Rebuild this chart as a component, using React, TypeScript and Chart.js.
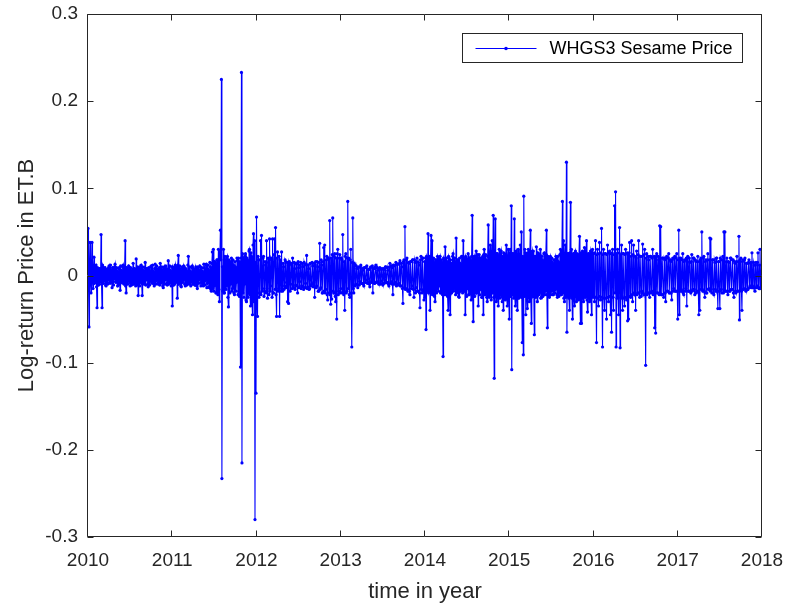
import React, { useEffect, useRef } from "react";
import { Chart, registerables } from "chart.js";

Chart.register(...registerables);

// Daily log-returns, in thousandths (per mille), one list per calendar year
const years = [2010, 2011, 2012, 2013, 2014, 2015, 2016, 2017];

const returns2010 = [
  54, -12, -59, 15, 38, -10, -20, 12, 38, -8, -15, 10, 21, -9, -8, 11, 12, -13, -37, 9, 6, -11, -10, 8,
  8, -7, 47, -10, -37, 12, 10, -9, -6, 8, 9, -11, -12, 7, 7, -10, -5, 9, 11, -8, -9, 12, 6, -7,
  -14, 9, 8, -11, -4, 10, 13, -7, -8, 9, 5, -12, -11, 8, 9, -10, -17, 11, 6, -8, -7, 10, 12, -9,
  -10, 7, 40, -12, -20, 9, 8, -10, -6, 11, 10, -8, -12, 9, 5, -11, -8, 7, 14, -10, -9, 8, 7, -12,
  19, -9, -11, 10, -23, 8, 9, -12, -7, 11, 12, -9, -23, 10, 6, -8, -10, 9, 15, -11, -5, 8, 8, -10,
  -13, 9, 6, -11, -6, 10, 11, -8, -9, 12, 5, -9, -12, 8, 13, -10, -6, 11, 7, -9, -10, 8, 9, -11,
  14, -9, -8, 10, 6, -12, -14, 8, 10, -10, -5, 11, 8, -9, -11, 7, 17, -10, -9, 11, 6, -8, -12, 10,
];
const returns2011 = [
  -35, 10, 8, -11, -10, 9, 12, -8, -6, 10, -26, 12, 23, -10, -9, 11, 7, -12, -13, 9, 10, -8, -5, 11,
  9, -10, -12, 8, 6, -11, -8, 12, 22, -9, -10, 10, 5, -12, -7, 9, 11, -10, -9, 8, 6, -11, -11, 10,
  8, -12, -15, 10, 7, -9, -5, 11, 10, -12, -8, 9, 5, -10, -12, 13, 9, -11, -6, 12, 13, -14, -9, 12,
  7, -13, -14, 15, 10, -16, -18, 14, 27, -15, 30, -18, -12, 16, 15, -20, -20, 18, 18, -22, 30, -16, -30, 20,
  52, 18, 225, -233, 10, -18, 30, -20, -20, 22, 18, -16, -12, 20, 22, -25, -36, 18, 15, -20, -10, 16, 20, -18,
  -15, 18, 12, -20, -22, 16, 10, -18, -8, 20, 17, -22, 20, -18, -24, 16, -105, 20, 233, -215, 25, -20, 20, -25,
  -10, 22, 25, -28, -30, 20, 18, -25, -20, 28, 30, -22, -35, 26, 22, -30, -45, 35, 48, -30, 40, -280, 15, -135,
];
const returns2012 = [
  67, -20, -47, 22, 18, -25, -20, 18, 40, -22, 46, -18, -15, 20, 22, -24, -18, 16, 12, -20, 40, -15, -26, 20,
  15, -22, 42, -18, -12, 20, 18, -25, 42, -20, -20, 24, 42, -16, 55, -22, -47, 20, 27, -18, -15, 22, -47, 18,
  12, -18, 27, -15, -18, 14, 10, -16, -12, 18, 16, -14, -8, 15, -30, 12, -32, 16, 14, -18, -10, 14, 12, -15,
  20, -12, -14, 15, 8, -16, -11, 14, 13, -12, -20, 16, 9, -14, -7, 12, 15, -15, -12, 14, 10, -13, -16, 15,
  12, -14, -9, 13, 23, -15, -13, 12, 8, -16, -15, 14, 14, -12, -10, 15, 11, -13, -8, 14, -25, 12, 16, -14,
  -12, 16, 10, -18, -18, 15, 37, -16, -14, 18, 12, -20, -20, 16, 32, -18, 35, -20, -16, 18, 22, -22, -28, 20,
  18, -20, 63, -22, -33, 20, -27, 24, 66, -18, -20, 22, 25, -24, -30, 20, -50, 25, 30, -22, -18, 20, 24, -20,
];
const returns2013 = [
  -15, 20, 18, -20, 47, -18, -22, 16, -40, 22, 25, -20, -18, 20, 85, -15, 20, -22, -25, 18, 30, -20, -82, 15,
  66, -15, -20, 14, 12, -12, -10, 11, 8, -10, -14, 9, 10, -11, -7, 10, 12, -9, -9, 8, 6, -10, -12, 9,
  9, -8, -5, 10, 11, -9, -8, 7, 7, -10, -13, 9, 10, -8, -6, 11, -20, 8, 8, -9, -9, 10, 12, -8,
  -7, 9, 6, -8, -10, 8, 9, -10, -6, 7, 8, -9, -11, 8, 7, -9, -5, 10, 10, -8, -8, 9, 6, -10,
  -12, 10, 14, -9, -7, 11, 9, -10, -22, 12, 11, -10, -8, 12, 15, -12, -10, 13, 13, -11, -9, 14, 17, -12,
  -12, 14, 10, -15, -32, 16, 18, -14, 56, -16, -15, 18, 20, -16, -18, 15, 14, -18, -22, 16, 16, -15, -12, 18,
  18, -16, -25, 18, 15, -20, -14, 16, 20, -18, -18, 15, 12, -20, -37, 18, 22, -16, -20, 20, 20, -18, -28, 16,
];
const returns2014 = [
  -25, 20, -62, 22, 20, -18, 48, -20, -18, 22, -40, 18, 46, -20, 40, -22, -22, 20, 15, -24, -30, 18, 18, -20,
  -15, 22, 20, -18, -12, 20, 22, -20, -20, 18, 15, -22, -93, 20, 18, -22, 33, -18, -22, 20, 16, -24, -40, 22,
  20, -22, -45, 18, 14, -20, -18, 22, 25, -18, -15, 20, 12, -22, 43, -20, -20, 18, 18, -24, -25, 20, 14, -18,
  -16, 22, 22, -20, 40, -18, -18, 20, -45, 22, 20, -24, -15, 18, 25, -22, -22, 20, 18, -20, -28, 22, 69, -20,
  -53, 20, 22, -24, -20, 22, 28, -20, -18, 24, -35, 20, 24, -22, -16, 20, 20, -25, -25, 22, -45, 24, 30, -22,
  -22, 24, 18, -25, -30, 22, 58, -24, -25, 26, 35, -22, -28, 25, 40, -20, 69, -25, -118, 20, 65, -24, -30, 25,
  25, -24, -35, 22, 30, -26, -22, 25, 28, -24, -30, 22, -40, 26, 25, -25, -28, 24, 35, -26, -35, 22, 30, -25,
];
const returns2015 = [
  -50, 25, 30, -24, 80, -108, 25, -22, 25, -26, 65, -24, -35, 26, 28, -25, -40, 24, 30, -26, -25, 22, 35, -24,
  50, -25, -77, 22, -91, 91, -24, 30, 26, -45, 25, -24, -38, 26, 30, -25, -30, 24, 52, -26, -55, 25, 28, -24,
  28, -24, -68, 22, 22, -25, 33, -24, -30, 26, 25, -22, -20, 24, 30, -26, -25, 22, 18, -24, -22, 25, 26, -22,
  -18, 24, 52, -22, -60, 22, 20, -24, -25, 20, 22, -22, -18, 20, 15, -22, -22, 18, 18, -20, -16, 22, 20, -22,
  -25, 22, 16, -24, -20, 24, 30, -22, -22, 26, 85, -20, 40, -26, -30, 24, 35, -25, 130, -65, 25, -24, 25, -26,
  -40, 26, 84, -24, 30, -26, -50, 24, 25, -28, -35, 26, 28, -24, -30, 25, 22, -26, -28, 24, 45, -25, -55, 26,
  -55, 24, 28, -26, -30, 25, 32, -24, -25, 26, 40, -28, -42, 24, 25, -26, -30, 25, 28, -24, -45, 26, 30, -25,
];
const returns2016 = [
  25, -24, -30, 26, 40, -25, -77, 24, 30, -26, -35, 25, 38, -24, -28, 26, 54, -25, -82, 24, 30, -26, -40, 25,
  25, -26, -50, 24, 35, -25, -30, 26, 28, -24, -45, 25, -65, 26, 30, -25, -40, 24, 80, -20, 96, -82, 25, -26,
  30, -25, -45, 26, 55, -83, 24, -26, 35, -24, -40, 25, 25, -26, -35, 24, 30, -25, -28, 26, -52, 24, -50, 26,
  38, -24, -25, 22, 40, -22, -30, 24, 35, -20, -22, 22, -40, 20, 28, -22, -20, 24, 40, -20, -25, 22, 22, -24,
  -18, 22, 36, -20, -22, 24, 30, -22, -103, 20, 25, -22, -20, 22, 18, -20, -25, 22, 22, -20, -18, 20, 30, -22,
  -20, 22, -60, 20, -66, 22, 25, -20, -20, 22, 18, -22, 57, -20, 56, -22, -22, 20, 20, -22, -25, 20, 18, -20,
  -30, 20, 22, -18, -18, 20, 25, -20, -20, 18, 16, -20, -28, 18, 20, -18, -15, 20, 22, -18, -18, 20, 25, -18,
];
const returns2017 = [
  -50, 18, 52, -45, 20, -18, 20, -16, -18, 18, 25, -20, -22, 16, 18, -18, -15, 20, -35, 16, 22, -18, -18, 20,
  15, -18, -20, 16, 24, -18, -16, 20, 20, -16, -22, 18, 16, -20, -18, 16, 22, -18, -45, 16, -40, 18, 20, -16,
  50, -16, -18, 20, 22, -18, -25, 16, 18, -20, -20, 18, 25, -16, -15, 18, 43, -18, 42, -16, -20, 18, 18, -20,
  -22, 18, 15, -16, -18, 20, 20, -18, -38, 16, 16, -18, -38, 20, 18, -16, -20, 18, 22, -20, 50, -16, 50, -18,
  -18, 16, 20, -18, -22, 16, 15, -18, -18, 20, 20, -16, -16, 18, 18, -20, -25, 16, 14, -18, -20, 16, 22, -18,
  -18, 16, 45, -51, 18, -16, 20, -18, -40, 16, 18, -16, -15, 18, 20, -16, -18, 14, 14, -16, -16, 15, 18, -14,
  -12, 14, 15, -14, 26, -12, -14, 15, 12, -14, -18, 12, 15, -14, -12, 15, 26, -14, -15, 12, 30, -14, -15, 12,
];

const xTicks = [2010, 2011, 2012, 2013, 2014, 2015, 2016, 2017, 2018];
const yTicks = [-0.3, -0.2, -0.1, 0, 0.1, 0.2, 0.3];

const seriesLabel = "WHGS3 Sesame Price";
const xTitle = "time in year";
const yTitle = "Log-return Price in ET.B";

const PER_MILLE = 1000;
const FONT = '"Liberation Sans", Arial, Helvetica, sans-serif';
const AXIS_COLOR = "#262626";
const LINE_COLOR = "#0000ff";

function buildPoints() {
  const yearly = [returns2010, returns2011, returns2012, returns2013, returns2014, returns2015, returns2016, returns2017];
  const pts: { x: number; y: number }[] = [];
  yearly.forEach((arr, k) => {
    arr.forEach((v, i) => {
      pts.push({ x: years[k] + i / arr.length, y: v / PER_MILLE });
    });
  });
  return pts;
}

const framePlugin = {
  id: "matlabFrame",
  afterDatasetsDraw(chart: any) {
    const { ctx, chartArea: a, scales } = chart;
    const sx = scales.x;
    const sy = scales.y;
    const L = Math.round(a.left) - 0.5;
    const R = Math.round(a.right) - 0.5;
    const T = Math.round(a.top) + 0.5;
    const B = Math.round(a.bottom) - 0.5;
    const tl = 6;
    ctx.save();
    ctx.strokeStyle = AXIS_COLOR;
    ctx.lineWidth = 1;
    ctx.beginPath();
    ctx.rect(L, T, R - L, B - T);
    xTicks.forEach((v) => {
      const px = Math.round(sx.getPixelForValue(v)) - 0.5;
      ctx.moveTo(px, B);
      ctx.lineTo(px, B - tl);
      ctx.moveTo(px, T);
      ctx.lineTo(px, T + tl);
    });
    yTicks.forEach((v) => {
      const py = Math.round(sy.getPixelForValue(v)) + 0.5;
      ctx.moveTo(L, py);
      ctx.lineTo(L + tl, py);
      ctx.moveTo(R, py);
      ctx.lineTo(R - tl, py);
    });
    ctx.stroke();

    // legend box (MATLAB style, inside the axes, north-east)
    ctx.font = `18px ${FONT}`;
    const tw = ctx.measureText(seriesLabel).width;
    const boxW = Math.round(13 + 61 + 13 + tw + 10);
    const boxH = 29;
    const bx = Math.round(a.right - 20 - boxW) + 0.5;
    const by = Math.round(a.top + 19) + 0.5;
    ctx.fillStyle = "#ffffff";
    ctx.fillRect(bx, by, boxW, boxH);
    ctx.strokeStyle = AXIS_COLOR;
    ctx.strokeRect(bx, by, boxW, boxH);
    const ly = Math.round(by + boxH / 2) + 0.5;
    ctx.strokeStyle = LINE_COLOR;
    ctx.beginPath();
    ctx.moveTo(bx + 13, ly);
    ctx.lineTo(bx + 74, ly);
    ctx.stroke();
    ctx.fillStyle = LINE_COLOR;
    ctx.beginPath();
    ctx.arc(bx + 43.5, ly, 1.8, 0, Math.PI * 2);
    ctx.fill();
    ctx.fillStyle = "#000000";
    ctx.textBaseline = "middle";
    ctx.textAlign = "left";
    ctx.fillText(seriesLabel, bx + 87, ly + 1);
    ctx.restore();
  },
};

export default function App() {
  const canvasRef = useRef<HTMLCanvasElement | null>(null);

  useEffect(() => {
    const canvas = canvasRef.current;
    if (!canvas) return;
    const chart = new Chart(canvas, {
      type: "line",
      data: {
        datasets: [
          {
            label: seriesLabel,
            data: buildPoints(),
            borderColor: LINE_COLOR,
            backgroundColor: LINE_COLOR,
            borderWidth: 1.1,
            pointRadius: 1.6,
            pointBorderWidth: 0,
            pointBackgroundColor: LINE_COLOR,
            tension: 0,
            fill: false,
          },
        ],
      },
      options: {
        responsive: false,
        animation: false,
        events: [],
        layout: { padding: { left: 0, right: 24, top: 14, bottom: 0 } },
        plugins: {
          legend: { display: false },
          tooltip: { enabled: false },
        },
        scales: {
          x: {
            type: "linear",
            min: 2010,
            max: 2018,
            afterBuildTicks: (s: any) => {
              s.ticks = xTicks.map((v) => ({ value: v }));
            },
            afterFit: (s: any) => {
              s.height = 68;
              s.paddingLeft = 0;
              s.paddingRight = 0;
            },
            ticks: {
              autoSkip: false,
              maxRotation: 0,
              padding: 12,
              color: AXIS_COLOR,
              font: { family: FONT, size: 19 },
              callback: (v: any) => String(v),
            },
            grid: { display: false, drawTicks: false },
            border: { display: false },
            title: {
              display: true,
              text: xTitle,
              color: AXIS_COLOR,
              font: { family: FONT, size: 22 },
              padding: { top: 0, bottom: 0 },
            },
          },
          y: {
            type: "linear",
            min: -0.3,
            max: 0.3,
            afterBuildTicks: (s: any) => {
              s.ticks = yTicks.map((v) => ({ value: v }));
            },
            afterFit: (s: any) => {
              s.width = 88;
              s.paddingTop = 0;
              s.paddingBottom = 0;
            },
            ticks: {
              padding: 10,
              color: AXIS_COLOR,
              font: { family: FONT, size: 19 },
              callback: (v: any) => String(Math.round(Number(v) * 10) / 10),
            },
            grid: { display: false, drawTicks: false },
            border: { display: false },
            title: {
              display: true,
              text: yTitle,
              color: AXIS_COLOR,
              font: { family: FONT, size: 22 },
              padding: { top: 14, bottom: 0 },
            },
          },
        },
      },
      plugins: [framePlugin],
    } as any);
    return () => chart.destroy();
  }, []);

  return (
    <div style={{ position: "fixed", left: 0, top: 0, width: 786, height: 605, background: "#ffffff" }}>
      <canvas ref={canvasRef} width={786} height={605} style={{ display: "block" }} />
    </div>
  );
}
